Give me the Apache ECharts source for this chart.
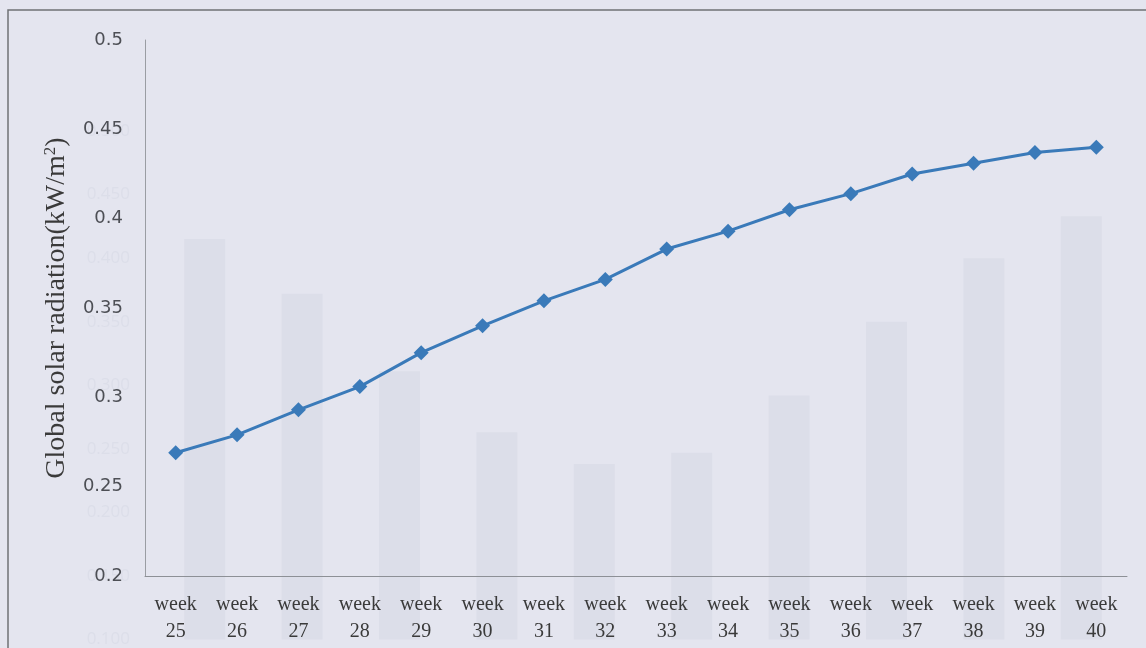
<!DOCTYPE html>
<html>
<head>
<meta charset="utf-8">
<script src="https://cdn.jsdelivr.net/npm/echarts@6/dist/echarts.min.js"></script>
<style>
  html, body { margin: 0; padding: 0; background: #e4e5ef; }
  #chart { width: 1146px; height: 648px; }
</style>
</head>
<body>
<div id="chart"></div>
<script>
// Weekly global solar radiation, weeks 25–40
const weeks = ['25', '26', '27', '28', '29', '30', '31', '32', '33', '34', '35', '36', '37', '38', '39', '40'];
const radiation = [0.269, 0.279, 0.293, 0.306, 0.325, 0.340, 0.354, 0.366, 0.383, 0.393, 0.405, 0.414, 0.425, 0.431, 0.437, 0.440];

// Faint show-through bars from the facing page
const underlaySlots = ['1', '2', '3', '4', '5', '6', '7', '8', '9', '10'];
const underlayValues = [0.415, 0.372, 0.311, 0.263, 0.238, 0.247, 0.292, 0.350, 0.400, 0.433];

const yTicks = { min: 0.2, max: 0.5, step: 0.05 };

const serif = 'Liberation Serif, Times New Roman, serif';

const chart = echarts.init(document.getElementById('chart'), null, { renderer: 'canvas' });

chart.setOption({
  backgroundColor: '#e4e5ef',
  animation: false,
  graphic: [{
    type: 'polyline',
    shape: { points: [[8, 648], [8, 10], [1146, 10]] },
    style: { stroke: '#6f7175', lineWidth: 1.5, fill: null },
    silent: true,
    z: 10
  }],
  grid: [
    { left: 145, right: 19, top: 40, bottom: 72 },
    { left: 156, right: 16, top: 131, bottom: 0 }
  ],
  xAxis: [{
    type: 'category',
    gridIndex: 0,
    z: 6,
    data: weeks.map(w => 'week\n' + w),
    boundaryGap: true,
    axisLine: { lineStyle: { color: '#8d9096', width: 1 } },
    axisTick: { show: false },
    axisLabel: {
      interval: 0,
      margin: 15,
      color: '#3a3a3a',
      fontFamily: serif,
      fontSize: 20,
      lineHeight: 27
    }
  }, {
    type: 'category',
    gridIndex: 1,
    data: underlaySlots,
    show: false
  }],
  yAxis: [{
    type: 'value',
    gridIndex: 0,
    z: 6,
    min: yTicks.min,
    max: yTicks.max,
    interval: yTicks.step,
    name: 'Global solar radiation(kW/m{sup|2})',
    nameLocation: 'middle',
    nameRotate: 90,
    nameGap: 74,
    nameTextStyle: {
      color: '#3a3a3a',
      fontFamily: serif,
      fontSize: 28,
      rich: {
        sup: {
          fontFamily: serif,
          fontSize: 17,
          color: '#3a3a3a',
          verticalAlign: 'top',
          padding: [0, 0, 12, 0]
        }
      }
    },
    axisLine: { show: true, lineStyle: { color: '#9a9da3', width: 1 } },
    axisTick: { show: false },
    splitLine: { show: false },
    axisLabel: {
      margin: 22,
      color: '#4d4f55',
      fontFamily: 'DejaVu Sans, sans-serif',
      fontSize: 18
    }
  }, {
    type: 'value',
    gridIndex: 1,
    min: 0.1,
    max: 0.5,
    interval: 0.05,
    axisLine: { show: false },
    axisTick: { show: false },
    splitLine: { show: false },
    axisLabel: {
      margin: 26,
      color: '#dcdee9',
      fontFamily: 'Open Sans, Liberation Sans, sans-serif',
      fontSize: 17,
      formatter: v => v.toFixed(3)
    }
  }],
  series: [{
    type: 'bar',
    xAxisIndex: 1,
    yAxisIndex: 1,
    data: underlayValues,
    barWidth: 41,
    itemStyle: { color: '#dcdee9' },
    silent: true,
    z: 0
  }, {
    type: 'line',
    xAxisIndex: 0,
    yAxisIndex: 0,
    data: radiation,
    symbol: 'diamond',
    symbolSize: 15,
    lineStyle: { color: '#3a7ab9', width: 3 },
    itemStyle: { color: '#3a7ab9' },
    z: 8
  }]
});
</script>
</body>
</html>
